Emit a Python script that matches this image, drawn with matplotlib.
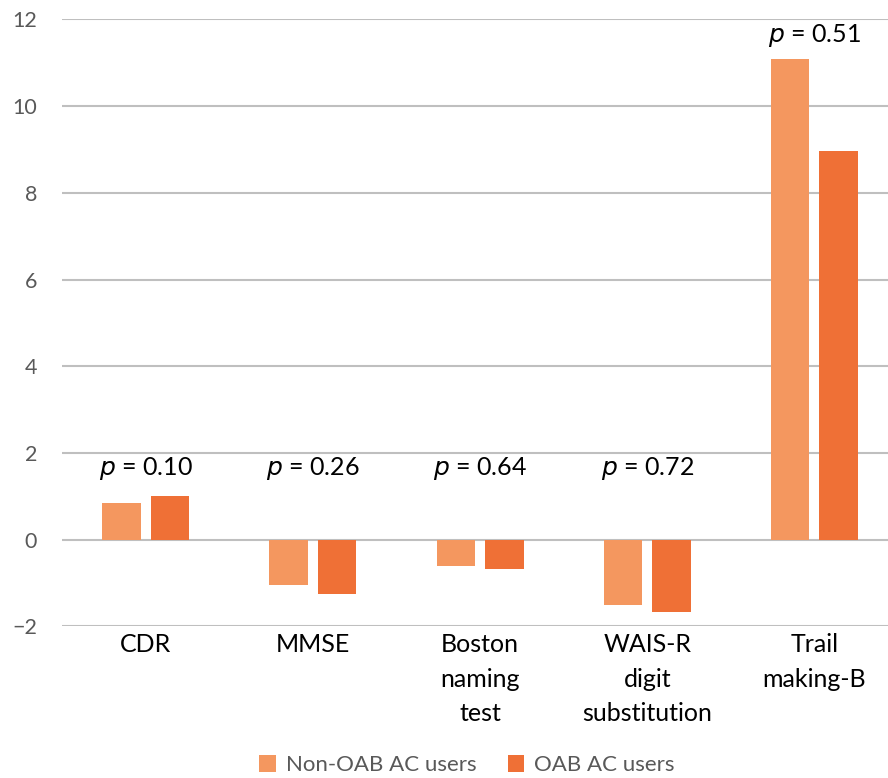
import matplotlib
matplotlib.use("Agg")
import matplotlib.pyplot as plt
import numpy as np

categories = ["CDR", "MMSE", "Boston\nnaming\ntest", "WAIS-R\ndigit\nsubstitution", "Trail\nmaking-B"]
non_oab = [0.85, -1.05, -0.61, -1.50, 11.09]
oab = [1.00, -1.26, -0.67, -1.67, 8.97]
p_values = ["0.10", "0.26", "0.64", "0.72", "0.51"]
series_names = ["Non-OAB AC users", "OAB AC users"]
colors = ["#F4975F", "#EF7036"]

plt.rcParams['font.family'] = ['Lato', 'DejaVu Sans']

fig = plt.figure(figsize=(8.88, 7.78), dpi=100)
ax = fig.add_axes([0.07, 0.195, 0.93, 0.78])

x = np.arange(len(categories))
w = 0.23
gap = 0.06
ax.bar(x - (w + gap) / 2, non_oab, width=w, color=colors[0], label=series_names[0], zorder=3)
ax.bar(x + (w + gap) / 2, oab, width=w, color=colors[1], label=series_names[1], zorder=3)

ax.set_ylim(-2, 12)
ax.set_xlim(-0.5, 4.44)
ax.set_yticks(np.arange(-2, 13, 2))
ax.yaxis.grid(True, color="#BFBFBF", linewidth=1.5, zorder=0)
ax.set_axisbelow(True)
for s in ax.spines.values():
    s.set_visible(False)
ax.tick_params(axis='y', length=0, pad=18, labelsize=15.5, labelcolor="#595959")
ax.tick_params(axis='x', length=0, pad=5)
ax.set_xticks(x)
ax.set_xticklabels(categories, fontsize=18, color="#000000", linespacing=1.6)

for i, p in enumerate(p_values):
    top = max(non_oab[i], oab[i], 0)
    ypos = 1.63 if top < 2 else 11.63
    ax.text(x[i], ypos, "$\\it{p}$ = " + p, ha="center", va="center", fontsize=18, color="#000000")

leg = fig.legend(loc="lower center", ncol=2, frameon=False, fontsize=16,
                 bbox_to_anchor=(0.526, -0.022), handlelength=0.75, handleheight=0.75,
                 handletextpad=0.45, columnspacing=1.4)
for t in leg.get_texts():
    t.set_color("#595959")

fig.savefig("out.png", dpi=100)
